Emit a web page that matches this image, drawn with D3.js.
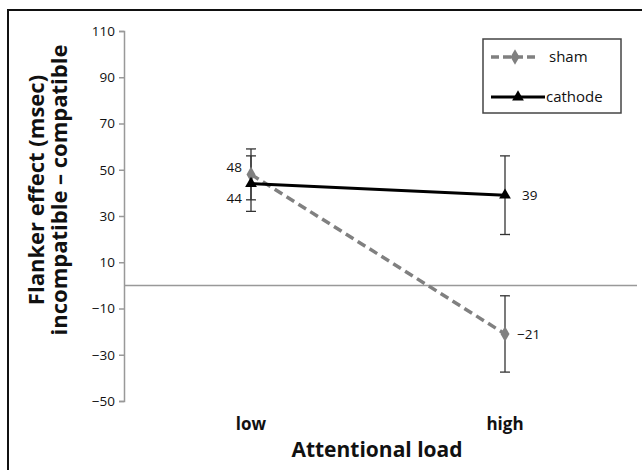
<!DOCTYPE html>
<html>
<head>
<meta charset="utf-8">
<script src="https://cdn.jsdelivr.net/npm/d3@7/dist/d3.min.js"></script>
<style>
  body { margin: 0; background: #fff; }
  svg { display: block; }
  text { font-family: "Open Sans", sans-serif; fill: #111; }
</style>
</head>
<body>
<svg width="642" height="470"></svg>
<script>
var categories = ['low', 'high'];
var shamValues = [48, -21];
var shamErrors = [11, 16.5];
var cathodeValues = [44, 39];
var cathodeErrors = [12, 17];
var yTicks = [110, 90, 70, 50, 30, 10, -10, -30, -50];

var svg = d3.select('svg');
var margin = {left: 124, right: 637, top: 31, bottom: 401};

// frame around the whole figure
svg.append('rect')
    .attr('x', 8).attr('y', 10)
    .attr('width', 660).attr('height', 480)
    .style('fill', 'none')
    .style('stroke', '#111')
    .style('stroke-width', 2);

var x = d3.scaleBand().domain(categories).range([margin.left, margin.left + 508]);
var y = d3.scaleLinear().domain([-50, 110]).range([margin.bottom, margin.top]);

var cx = function (c) { return x(c) + x.bandwidth() / 2; };

// y axis
var yAxis = svg.append('g')
    .attr('transform', 'translate(' + margin.left + ',0)')
    .call(d3.axisLeft(y).tickValues(yTicks).tickSize(5).tickPadding(4)
        .tickFormat(function (d) { return d < 0 ? '\u2212' + Math.abs(d) : d; }));
yAxis.select('.domain').style('stroke', '#999').style('stroke-width', 1.5);
yAxis.selectAll('.tick line').style('stroke', '#999').style('stroke-width', 1.5);
yAxis.selectAll('.tick text').style('font-size', '13.5px').style('fill', '#111')
    .style('font-family', '"Open Sans", sans-serif');

// horizontal axis at zero
svg.append('line')
    .attr('x1', margin.left).attr('x2', margin.right)
    .attr('y1', y(0)).attr('y2', y(0))
    .style('stroke', '#999').style('stroke-width', 1.5);

// category labels
svg.selectAll('text.cat')
    .data(categories)
    .enter()
    .append('text')
    .attr('class', 'cat')
    .attr('x', function (d) { return cx(d); })
    .attr('y', 430)
    .style('text-anchor', 'middle')
    .style('font-size', '17px')
    .style('font-weight', 'bold')
    .text(function (d) { return d; });

svg.append('text')
    .attr('x', 377).attr('y', 457)
    .style('text-anchor', 'middle')
    .style('font-size', '21px')
    .style('font-weight', 'bold')
    .text('Attentional load');

// y axis title
var yTitle = svg.append('text')
    .attr('transform', 'translate(44,190) rotate(-90)')
    .style('text-anchor', 'middle')
    .style('font-size', '22px')
    .style('font-weight', 'bold');
yTitle.append('tspan').attr('x', 0).attr('y', 0).text('Flanker effect (msec)');
yTitle.append('tspan').attr('x', 0).attr('y', 23).text('incompatible \u2013 compatible');

var series = [
    {name: 'sham', values: shamValues, errors: shamErrors, color: '#808080', dash: '9,5', width: 3.5, marker: d3.symbolDiamond, size: 70},
    {name: 'cathode', values: cathodeValues, errors: cathodeErrors, color: '#000', dash: null, width: 3, marker: d3.symbolTriangle, size: 60}
];

// error bars
series.forEach(function (s) {
    var eb = svg.append('g');
    categories.forEach(function (c, i) {
        var hi = y(s.values[i] + s.errors[i]);
        var lo = y(s.values[i] - s.errors[i]);
        eb.append('line').attr('x1', cx(c)).attr('x2', cx(c)).attr('y1', hi).attr('y2', lo);
        eb.append('line').attr('x1', cx(c) - 5).attr('x2', cx(c) + 5).attr('y1', hi).attr('y2', hi);
        eb.append('line').attr('x1', cx(c) - 5).attr('x2', cx(c) + 5).attr('y1', lo).attr('y2', lo);
    });
    eb.selectAll('line').style('stroke', '#333').style('stroke-width', 1.3);
});

var line = d3.line()
    .x(function (d, i) { return cx(categories[i]); })
    .y(function (d) { return y(d); });

series.forEach(function (s) {
    svg.append('path')
        .datum(s.values)
        .attr('d', line)
        .style('fill', 'none')
        .style('stroke', s.color)
        .style('stroke-width', s.width)
        .style('stroke-dasharray', s.dash);

    svg.selectAll('path.m-' + s.name)
        .data(s.values)
        .enter()
        .append('path')
        .attr('class', 'm-' + s.name)
        .attr('d', d3.symbol().type(s.marker).size(s.size))
        .attr('transform', function (d, i) { return 'translate(' + cx(categories[i]) + ',' + y(d) + ')'; })
        .style('fill', s.color);
});

// data labels
var fmt = function (v) { return v < 0 ? '\u2212' + Math.abs(v) : '' + v; };
svg.append('text').attr('x', 242).attr('y', y(shamValues[0]) - 2)
    .style('text-anchor', 'end').style('font-size', '13.5px').text(fmt(shamValues[0]));
svg.append('text').attr('x', 242).attr('y', y(cathodeValues[0]) + 19)
    .style('text-anchor', 'end').style('font-size', '13.5px').text(fmt(cathodeValues[0]));
svg.append('text').attr('x', 522).attr('y', y(cathodeValues[1]) + 5)
    .style('font-size', '13.5px').text(fmt(cathodeValues[1]));
svg.append('text').attr('x', 517).attr('y', y(shamValues[1]) + 5)
    .style('font-size', '13.5px').text(fmt(shamValues[1]));

// legend
var legend = svg.append('g').attr('transform', 'translate(483,39)');
legend.append('rect')
    .attr('width', 138).attr('height', 74)
    .style('fill', '#fff').style('stroke', '#444').style('stroke-width', 1.5);
series.forEach(function (s, i) {
    var ly = 18 + i * 40;
    legend.append('line')
        .attr('x1', 8).attr('x2', i === 0 ? 56 : 62).attr('y1', ly).attr('y2', ly)
        .style('stroke', s.color)
        .style('stroke-width', s.width)
        .style('stroke-dasharray', s.dash ? '8,4' : null);
    legend.append('path')
        .attr('d', d3.symbol().type(s.marker).size(s.size))
        .attr('transform', 'translate(' + (i === 0 ? 32 : 35) + ',' + ly + ')')
        .style('fill', s.color);
    legend.append('text')
        .attr('x', i === 0 ? 66 : 63).attr('y', ly + 5)
        .style('font-size', '15px')
        .text(s.name);
});
</script>
</body>
</html>
